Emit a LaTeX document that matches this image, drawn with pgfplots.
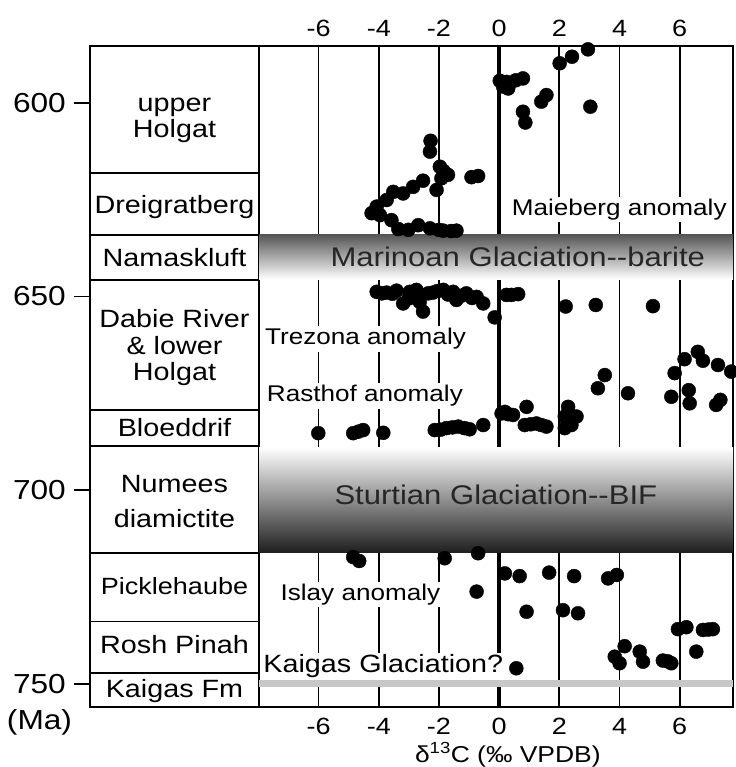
\documentclass[border=0pt]{standalone}
\usepackage{fontspec}
\setmainfont{Liberation Sans}[FakeStretch=1.15]
\usepackage{pgfplots}
\pgfplotsset{compat=1.18}
\definecolor{kaigasGray}{gray}{0.78}
\definecolor{bandInk}{gray}{0.15}
\newcommand{\fs}[1]{\fontsize{#1bp}{#1bp}\selectfont}

\begin{document}
\begin{tikzpicture}[x=1bp,y=1bp]
\useasboundingbox (0,0) rectangle (736,767);

% ---- formation column ----
\begin{axis}[
    at={(90bp,60bp)}, anchor=south west,
    scale only axis, width=169bp, height=661bp,
    xmin=0, xmax=1, ymin=585.33, ymax=756, y dir=reverse,
    xtick=\empty,
    ytick={600,650,700,750}, yticklabels={600,650,700,750},
    ytick pos=left,
    tick align=outside, major tick length=16bp,
    tick style={black, line width=1.6bp},
    yticklabel style={font=\fs{27.5}, anchor=east, inner sep=0pt, xshift=-8bp},
    axis line style={line width=1.7bp},
    clip=false,
]
\pgfplotsinvokeforeach{618.1,634.1,645.8,679.3,688.6,716.3,733.9,747.3}{
    \addplot[black, line width=1.7bp] coordinates {(0,#1) (1,#1)};
}
\begin{scope}[every node/.style={anchor=base, inner sep=0pt, font=\fs{25}}]
\node at (axis cs:0.5,602.30) {upper};
\node at (axis cs:0.5,608.91) {Holgat};
\node at (axis cs:0.5,628.53) {Dreigratberg};
\node at (axis cs:0.5,642.32) {Namaskluft};
\node at (axis cs:0.5,657.89) {Dabie River};
\node at (axis cs:0.5,664.86) {\& lower};
\node at (axis cs:0.5,671.57) {Holgat};
\node at (axis cs:0.5,686.11) {Bloeddrif};
\node at (axis cs:0.5,700.57) {Numees};
\node at (axis cs:0.5,709.61) {diamictite};
\node[font=\fs{23.5}] at (axis cs:0.5,727.01) {Picklehaube};
\node at (axis cs:0.5,742.14) {Rosh Pinah};
\node at (axis cs:0.5,753.50) {Kaigas Fm};
\node[font=\fs{27.5}] at (axis cs:-0.299,761.7) {(Ma)};
\end{scope}
\end{axis}

% ---- carbon isotope panel ----
\begin{axis}[
    at={(259bp,60bp)}, anchor=south west,
    scale only axis, width=474bp, height=661bp,
    xmin=-7.98, xmax=7.77, ymin=585.33, ymax=756, y dir=reverse,
    xtick={-6,-4,...,6}, xticklabels={-6,-4,-2,0,2,4,6},
    ytick=\empty,
    major tick length=0pt,
    xmajorgrids, grid style={black, line width=1.8bp},
    xticklabel style={font=\fs{23.5}, anchor=base, yshift=-27bp},
    axis line style={line width=1.7bp},
    xlabel={δ\textsuperscript{13}C (‰ VPDB)},
    xlabel style={at={(axis description cs:0.525,0)}, anchor=base, yshift=-55bp, font=\fs{23}},
    clip mode=individual,
]
% zero line
\addplot[black, line width=4bp] coordinates {(0,585.33) (0,756)};

% glaciation bands
\addplot[draw=none, top color=black!66, middle color=black!38, bottom color=white]
    coordinates {(-7.98,634.1) (7.77,634.1) (7.77,645.6) (-7.98,645.6)} -- cycle;
\addplot[draw=none, top color=white, middle color=black!28, bottom color=black!88]
    coordinates {(-7.98,688.9) (7.77,688.9) (7.77,716.1) (-7.98,716.1)} -- cycle;

% anomaly labels
\begin{scope}[every node/.style={anchor=base, fill=white, inner sep=2bp, font=\fs{22.7}}]
\node at (axis cs:3.99,629.0) {Maieberg anomaly};
\node at (axis cs:-4.44,662.5) {Trezona anomaly};
\node at (axis cs:-4.46,677.2) {Rasthof anomaly};
\node at (axis cs:-4.61,728.4) {Islay anomaly};
\node[font=\fs{25}] at (axis cs:-3.85,747.2) {Kaigas Glaciation?};
\end{scope}
\node[anchor=base, inner sep=0pt, font=\fs{27}, text=bandInk] at (axis cs:0.62,642.3) {Marinoan Glaciation-{}-barite};
\node[anchor=base, inner sep=0pt, font=\fs{27}, text=bandInk] at (axis cs:-0.11,703.8) {Sturtian Glaciation-{}-BIF};

\addplot[draw=none, fill=kaigasGray]
    coordinates {(-7.98,749.0) (7.77,749.0) (7.77,750.9) (-7.98,750.9)} -- cycle;

% upper Holgat
\addplot[only marks, mark=*, mark size=7bp, black] coordinates {
    (2.95,586.2) (2.42,588.1) (2.01,589.8) (0.79,593.7) (0.55,594.2)
    (0.02,594.3) (0.24,594.6) (0.13,595.8) (0.30,596.3) (1.57,598.0)
    (1.40,599.7) (0.79,602.3) (0.87,605.1) (3.03,601.0)
};
% Dreigratberg
\addplot[only marks, mark=*, mark size=7bp, black] coordinates {
    (-2.28,609.8) (-2.30,612.6) (-1.97,616.5) (-1.85,617.6) (-1.70,618.6)
    (-1.92,619.5) (-2.08,622.5) (-0.92,619.2) (-0.70,618.9) (-2.53,620.1)
    (-2.86,621.7) (-3.19,623.4) (-3.52,623.0) (-3.74,625.1) (-4.07,626.8)
    (-4.10,628.0) (-4.24,628.5) (-3.96,629.0) (-3.58,630.3) (-3.35,632.6)
    (-3.02,632.8) (-2.69,631.6) (-2.30,632.4) (-2.00,632.8) (-1.86,633.0)
    (-1.60,633.1) (-1.42,633.0)
};
% Dabie River and lower Holgat
\addplot[only marks, mark=*, mark size=7bp, black] coordinates {
    (-4.07,648.8) (-3.90,649.2) (-3.74,649.0) (-3.55,649.3) (-3.41,648.5)
    (-3.19,651.8) (-3.00,650.5) (-2.97,648.8) (-2.75,648.3) (-2.64,651.4)
    (-2.53,653.9) (-2.36,649.2) (-2.20,649.0) (-2.05,648.6) (-1.86,648.3)
    (-1.70,649.5) (-1.53,648.8) (-1.42,650.9) (-1.25,649.8) (-1.09,649.2)
    (-0.90,650.4) (-0.75,650.1) (-0.53,651.8) (-0.15,655.4) (0.24,649.6)
    (0.41,649.6) (0.63,649.4) (2.21,652.6) (3.21,652.2) (5.11,652.5)
    (3.51,670.3) (3.28,673.7) (4.28,675.0) (6.16,666.2) (6.60,664.3)
    (6.77,666.6) (7.27,667.7) (7.71,669.4) (5.83,669.8) (5.72,675.9)
    (6.30,674.2) (6.33,677.6) (7.21,678.0) (7.35,676.7)
};
% Bloeddrif
\addplot[only marks, mark=*, mark size=7bp, black] coordinates {
    (0.08,680.2) (0.30,680.4) (0.46,680.6) (0.91,678.5) (0.85,683.2)
    (1.05,683.0) (1.24,682.8) (1.40,683.2) (1.57,683.6) (2.29,678.5)
    (2.18,681.0) (2.57,681.0) (2.30,682.2) (2.18,684.0) (2.40,683.2)
    (-6.01,685.3) (-4.85,685.3) (-4.68,684.9) (-4.52,684.5) (-3.85,685.2)
    (-2.14,684.5) (-1.95,684.4) (-1.75,684.0) (-1.55,683.8) (-1.36,683.6)
    (-1.15,684.0) (-0.98,684.3) (-0.53,683.2) (0.19,679.8)
};
% Picklehaube and Rosh Pinah
\addplot[only marks, mark=*, mark size=7bp, black] coordinates {
    (-4.85,717.3) (-4.65,718.3) (-1.81,717.6) (-0.70,716.3) (0.19,721.5)
    (0.68,722.2) (1.66,721.3) (2.49,722.2) (3.62,722.8) (3.91,721.9)
    (-0.75,726.2) (0.91,731.4) (2.12,731.0) (2.62,731.8) (5.94,735.9)
    (6.22,735.4) (6.77,736.1) (6.95,736.0) (7.10,735.9) (6.55,741.7)
    (4.17,740.3) (3.84,743.0) (4.00,744.7) (4.67,741.7) (4.78,744.3)
    (5.44,744.0) (5.60,744.2) (5.72,744.7) (0.57,746.0)
};
\end{axis}

% ---- top tick labels ----
\begin{axis}[
    at={(259bp,60bp)}, anchor=south west,
    scale only axis, width=474bp, height=661bp,
    xmin=-7.98, xmax=7.77, ymin=0, ymax=1,
    axis x line*=top, hide y axis,
    xtick={-6,-4,...,6}, xticklabels={-6,-4,-2,0,2,4,6},
    major tick length=0pt,
    xticklabel style={font=\fs{23.5}, anchor=base, yshift=9bp},
    axis line style={line width=1.7bp},
]
\end{axis}
\end{tikzpicture}
\end{document}
